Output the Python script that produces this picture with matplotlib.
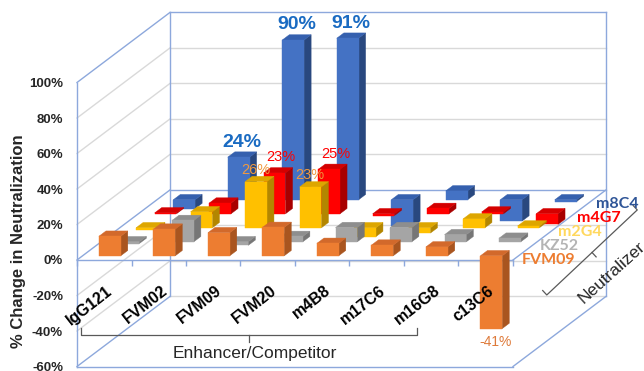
import numpy as np
import matplotlib
matplotlib.use("Agg")
import matplotlib.pyplot as plt
from matplotlib.patches import Polygon
from matplotlib.lines import Line2D

# ---- data -------------------------------------------------------------
categories = ["IgG121", "FVM02", "FVM09", "FVM20", "m4B8", "m17C6", "m16G8", "c13C6"]
neutralizers = ["FVM09", "KZ52", "m2G4", "m4G7", "m8C4"]   # front row -> back row
fvm09 = [11, 15, 13, 16, 7, 6, 5, -41]
kz52 = [-1, 12, -2, 3, 8, 8, 4, 2]
m2g4 = [-1, 9, 26, 23, -5, -3, 5, 1]
m4g7 = [0.5, 6, 23, 25, -1, 3, 1, -6]
m8c4 = [-5, 24, 90, 91, -15, 5, -12, -1]
value_ticks = [-60, -40, -20, 0, 20, 40, 60, 80, 100]
# (series index, category index) pairs that carry a value label
labelled = [(4, 1), (4, 2), (4, 3), (3, 2), (3, 3), (2, 2), (2, 3), (0, 7)]

series = [fvm09, kz52, m2g4, m4g7, m8c4]

# ---- styling ----------------------------------------------------------
face_colors = [  # front, top, side
    ("#ED7D31", "#D2692B", "#A9551F"),
    ("#A5A5A5", "#8E8E8E", "#767676"),
    ("#FFC000", "#DDA600", "#B38600"),
    ("#FF0000", "#D40000", "#A80000"),
    ("#4472C4", "#3560AE", "#29487F"),
]
name_colors = ["#ED7D31", "#B4B4B4", "#FFD85E", "#FF0000", "#2F5597"]
label_colors = ["#DE7A3A", None, "#F09A40", "#FF0000", "#1A6BC2"]
FRAME = "#8DA8DC"
GRID = "#D9D9D9"

# oblique projection: each depth row shifts right (category units) and up (% units)
ROW_DX, ROW_DY = 0.341, 7.89
N_ROWS = len(series)
BAR_X0, BAR_W = 0.30, 0.40
BAR_D0, BAR_D = 0.30, 0.38


def proj(x, k, v):
    return (x + k * ROW_DX, v + k * ROW_DY)


plt.rcParams["font.family"] = ["Liberation Sans", "DejaVu Sans"]
fig = plt.figure(figsize=(6.44, 3.71), dpi=100)
ax = fig.add_axes([0, 0, 1, 1])
ax.set_xlim(-77 / 54.5, (644 - 77) / 54.5)
ax.set_ylim((260 - 371) / 1.775, 260 / 1.775)
ax.patch.set_alpha(0)

n_cat = len(categories)
vmin, vmax = value_ticks[0], value_ticks[-1]


def seg(p, q, color, lw=1.0, z=0.5):
    ax.add_line(Line2D([p[0], q[0]], [p[1], q[1]], color=color, lw=lw, zorder=z))


# walls: back wall and left side wall gridlines
for v in value_ticks:
    back_col = FRAME if v in (0, vmax) else GRID
    side_col = FRAME if v in (vmin, 0, vmax) else GRID
    seg(proj(0, N_ROWS, v), proj(n_cat, N_ROWS, v), back_col, z=0.4 if back_col == GRID else 0.6)
    seg(proj(0, 0, v), proj(0, N_ROWS, v), side_col, z=0.4 if side_col == GRID else 0.6)
seg(proj(0, N_ROWS, vmin), proj(0, N_ROWS, vmax), FRAME)
seg(proj(n_cat, N_ROWS, vmin), proj(n_cat, N_ROWS, vmax), FRAME)
# zero plane right edge and floor edges
seg(proj(n_cat, 0, 0), proj(n_cat, N_ROWS, 0), FRAME)
seg(proj(0, 0, vmin), proj(n_cat, 0, vmin), FRAME)
seg(proj(n_cat, 0, vmin), proj(n_cat, N_ROWS, vmin), FRAME)

# ---- bars (back rows first) --------------------------------------------
for k in range(N_ROWS - 1, -1, -1):
    front_c, top_c, side_c = face_colors[k]
    for i, v in enumerate(series[k]):
        xl, xr = i + BAR_X0, i + BAR_X0 + BAR_W
        kf, kb = k + BAR_D0, k + BAR_D0 + BAR_D
        lo, hi = min(v, 0), max(v, 0)
        z = 3 + (N_ROWS - k)
        faces = [
            ([proj(xr, kf, lo), proj(xr, kb, lo), proj(xr, kb, hi), proj(xr, kf, hi)], side_c),
            ([proj(xl, kf, hi), proj(xr, kf, hi), proj(xr, kb, hi), proj(xl, kb, hi)], top_c),
            ([proj(xl, kf, lo), proj(xr, kf, lo), proj(xr, kf, hi), proj(xl, kf, hi)], front_c),
        ]
        for verts, col in faces:
            ax.add_patch(Polygon(verts, closed=True, facecolor=col, edgecolor=col,
                                 lw=0.3, zorder=z))

# ---- value labels --------------------------------------------------------
for k, i in labelled:
    v = series[k][i]
    xc = i + BAR_X0 + BAR_W / 2
    txt = f"{v:.0f}%"
    if v >= 0:
        pos = proj(xc, k + BAR_D0 + BAR_D / 2, v)
        if k == 4:
            off, size, weight = (0, 12.5), 14, "bold"
        elif k == 3:
            off, size, weight = (3, 13), 10.5, "normal"
        else:
            off, size, weight = (-4, 9), 10.5, "normal"
    else:
        pos = proj(xc, k + BAR_D0, v)
        off, size, weight = (4, -13.5), 10, "normal"
    ax.annotate(txt, xy=pos, xytext=off, textcoords="offset pixels",
                ha="center", va="center", fontsize=size, fontweight=weight,
                color=label_colors[k], zorder=20)

# ---- axes ----------------------------------------------------------------
for s in ("top", "right"):
    ax.spines[s].set_visible(False)
ax.spines["left"].set_position(("data", 0))
ax.spines["left"].set_bounds(vmin, vmax)
ax.spines["bottom"].set_position(("data", 0))
ax.spines["bottom"].set_bounds(0, n_cat)
for s in ("left", "bottom"):
    ax.spines[s].set_color(FRAME)
    ax.spines[s].set_linewidth(1.0)
    ax.spines[s].set_zorder(2)

ax.set_yticks(value_ticks, labels=[f"{t}%" for t in value_ticks])
ax.tick_params(axis="y", length=0, pad=10, labelsize=9.5, labelcolor="#262626")
for lab in ax.get_yticklabels():
    lab.set_fontweight("bold")

ax.set_xticks(np.arange(n_cat + 1), labels=[""] * (n_cat + 1))
ax.tick_params(axis="x", which="major", length=4, width=1.0, color=FRAME, direction="out")

# category names below the front edge, drawn above the bars
for i, name in enumerate(categories):
    ax.annotate(name, xy=(i + 0.5, 0), xytext=(2, -23), textcoords="offset pixels",
                rotation=38, ha="right", va="top", rotation_mode="anchor",
                fontsize=11.5, fontweight="bold", color="black", zorder=25)

ax.text(0.0295, 0.35, "% Change in Neutralization", transform=ax.transAxes,
        rotation=90, ha="center", va="center", fontsize=12, fontweight="bold",
        color="#262626")

# neutralizer names at the right end of each depth row
for k, name in enumerate(neutralizers):
    ax.annotate(name, xy=proj(n_cat, k + 0.5, 0), xytext=(-1, -7),
                textcoords="offset pixels", ha="left", va="center",
                fontsize=11.5, fontweight="bold", family=["Lato", "DejaVu Sans"],
                color=name_colors[k], zorder=20)

# bracket under the enhancer/competitor group
BR = "#595959"
bx0, bx1, by = 0.07, 6.24, -42.3
ax.plot([bx0, bx0, bx1, bx1], [by + 3.9, by, by, by + 3.9], color=BR, lw=0.9)
bxm = (bx0 + bx1) / 2
ax.plot([bxm, bxm], [by, by - 3.8], color=BR, lw=0.9)
ax.text(3.27, -52.4, "Enhancer/Competitor", ha="center", va="center",
        fontsize=12.5, color="#262626")

# brace along the neutralizer depth axis
p1 = np.array([8.62, -19.7])
p2 = np.array([10.28, 28.2])
hook = np.array([-0.075, 2.5])
ax.plot([p1[0] + hook[0], p1[0], p2[0], p2[0] + hook[0]],
        [p1[1] + hook[1], p1[1], p2[1], p2[1] + hook[1]], color=BR, lw=0.9)
pm = (p1 + p2) / 2
ax.plot([pm[0], pm[0] - hook[0]], [pm[1], pm[1] - hook[1]], color=BR, lw=0.9)
ax.text(9.82, -7.3, "Neutralizer", rotation=42, ha="center", va="center",
        fontsize=12.5, color="#262626", rotation_mode="anchor")

fig.savefig("out.png", dpi=100)
